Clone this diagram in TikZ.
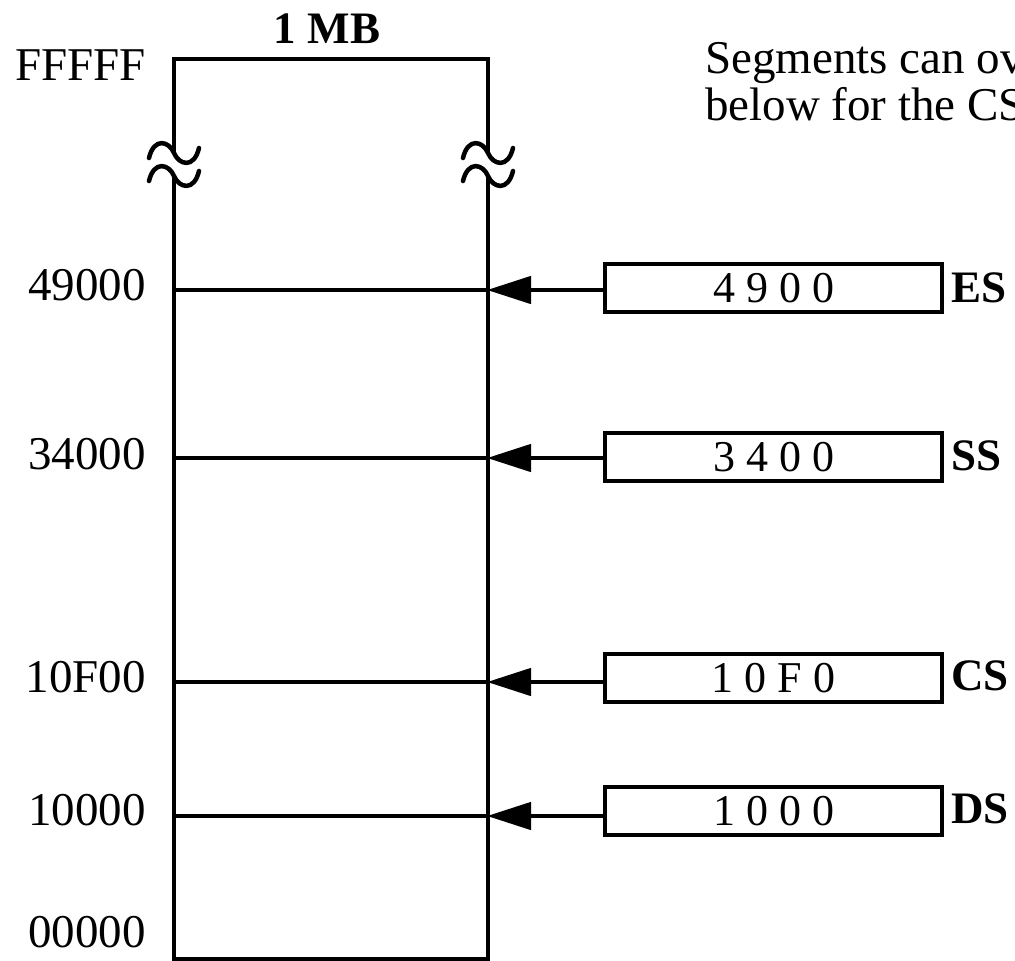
\documentclass[tikz,border=0pt]{standalone}
\usepackage{fontspec}
\setmainfont{Liberation Serif}
\usetikzlibrary{arrows.meta}
\tikzset{
  mem/.style={line width=4.5pt},
  addr/.style={anchor=base east, inner sep=0pt, font=\fontsize{47}{50}\selectfont},
  reg/.style={draw, line width=4.5pt, minimum width=337pt, minimum height=48pt, inner sep=0pt, font=\fontsize{44}{48}\selectfont},
  regname/.style={anchor=base west, inner sep=0pt, font=\fontsize{45}{48}\selectfont\bfseries},
  arr/.style={line width=4.5pt, -{Triangle[length=44pt,width=27pt]}, shorten >=-1pt},
  brk/.style={line width=4.5pt, line cap=round},
  note/.style={anchor=base west, inner sep=0pt, font=\fontsize{47}{49}\selectfont}
}
\begin{document}
\begin{tikzpicture}[x=1pt,y=-1pt]
\useasboundingbox (0,0) rectangle (1015,961);
% memory column
\coordinate (tl) at (174,59);
\coordinate (tr) at (488,59);
\coordinate (bl) at (174,959);
\coordinate (br) at (488,959);
\draw[mem] (174,152) -- (tl) -- (tr) -- (488,152);
\draw[mem] (174,176) -- (bl) -- (br) -- (488,176);
% break marks
\foreach \x in {174,488}{
  \foreach \y in {153,176}{
    \draw[brk] (\x-25,\y+5) .. controls (\x-20,\y-16) and (\x-5,\y-12) .. (\x,\y)
               .. controls (\x+5,\y+12) and (\x+20,\y+16) .. (\x+25,\y-5);
  }
}
% boundary lines
\foreach \n/\y in {ES/290,SS/458,CS/682,DS/816}{
  \coordinate (l\n) at (174,\y);
  \coordinate (m\n) at (488,\y);
  \draw[mem] (l\n) -- (m\n);
}
% title
\node[anchor=base, inner sep=0pt, font=\fontsize{45}{48}\selectfont\bfseries] (title) at (327,43) {1 MB};
% addresses
\node[addr] (aF) at (146,80) {FFFFF};
\node[addr] (a49) at (146,300) {49000};
\node[addr] (a34) at (146,469) {34000};
\node[addr] (a10F) at (146,692) {10F00};
\node[addr] (a10) at (146,825) {10000};
\node[addr] (a00) at (146,947) {00000};
% registers
\node[reg] (ES) at (773.5,288) {4 9 0 0};
\node[reg] (SS) at (773.5,457) {3 4 0 0};
\node[reg] (CS) at (773.5,678) {1 0 F 0};
\node[reg] (DS) at (773.5,811) {1 0 0 0};
\node[regname] (nES) at (951,302) {ES};
\node[regname] (nSS) at (951,470) {SS};
\node[regname] (nCS) at (951,690) {CS};
\node[regname] (nDS) at (951,823) {DS};
% arrows
\foreach \n in {ES,SS,CS,DS}{
  \draw[arr] (\n.west |- m\n) -- (m\n);
}
% note text (cut off at the right edge, as in the picture)
\node[note] (note1) at (705,73) {Segments can ov};
\node[note] (note2) at (705,120) {below for the CS};
\end{tikzpicture}
\end{document}
